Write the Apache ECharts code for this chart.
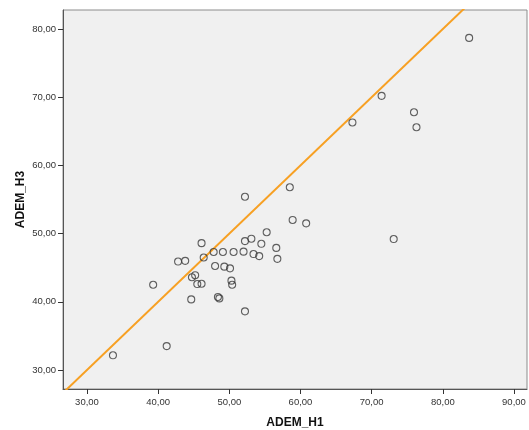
<!DOCTYPE html>
<html>
<head>
<meta charset="utf-8">
<script src="https://cdn.jsdelivr.net/npm/echarts@6/dist/echarts.min.js"></script>
<style>
html,body{margin:0;padding:0;background:#fff;}
#chart{width:529px;height:430px;}
</style>
</head>
<body>
<div id="chart"></div>
<script>
var xName = 'ADEM_H1';
var yName = 'ADEM_H3';
var xTicks = [30, 40, 50, 60, 70, 80, 90];
var yTicks = [30, 40, 50, 60, 70, 80];
var h1 = [52.2, 46.1, 42.8, 43.8, 46.4, 47.8, 49.1, 50.6, 52.0, 52.2, 48.0, 49.3, 50.1, 44.75, 45.2, 45.5, 46.1, 50.3, 50.4, 39.3, 44.65, 48.4, 48.6, 58.5, 58.9, 60.8, 55.25, 53.1, 54.5, 56.6, 53.4, 54.2, 56.75, 52.2, 41.2, 83.7, 71.4, 67.3, 75.95, 76.3, 73.1, 33.65];
var h3 = [55.4, 48.6, 45.9, 46.0, 46.5, 47.3, 47.3, 47.3, 47.35, 48.9, 45.25, 45.15, 44.9, 43.6, 43.9, 42.6, 42.65, 43.1, 42.5, 42.5, 40.35, 40.7, 40.5, 56.8, 52.0, 51.5, 50.2, 49.25, 48.5, 47.9, 47.0, 46.7, 46.3, 38.6, 33.5, 78.7, 70.2, 66.3, 67.8, 65.6, 49.2, 32.15];
var refLine = [[20, 20], [100, 100]];

var points = h1.map(function (v, i) { return [v, h3[i]]; });
function fmt(v) { return v.toFixed(2).replace('.', ','); }

var chart = echarts.init(document.getElementById('chart'));
chart.setOption({
  animation: false,
  grid: {
    left: 63, right: 2, top: 10, bottom: 41,
    outerBoundsMode: 'none', containLabel: false,
    show: true, backgroundColor: '#f0f0f0', borderColor: '#8c8c8c', borderWidth: 1
  },
  xAxis: {
    type: 'value', min: 26.63, max: 91.83,
    name: xName, nameLocation: 'middle', nameGap: 28, nameMoveOverlap: false,
    nameTextStyle: { fontFamily: 'Liberation Sans, Arial', fontWeight: 'bold', fontSize: 12, color: '#111' },
    axisLine: { show: true, lineStyle: { color: '#555', width: 1 } },
    axisTick: { show: true, length: 5, inside: false, customValues: xTicks, lineStyle: { color: '#333' } },
    axisLabel: { customValues: xTicks, formatter: fmt, margin: 8, fontFamily: 'Liberation Sans, Arial', fontSize: 9.5, color: '#333' },
    splitLine: { show: false }
  },
  yAxis: {
    type: 'value', min: 27.21, max: 82.79,
    name: yName, nameLocation: 'middle', nameGap: 36, nameRotate: 90, nameMoveOverlap: false,
    nameTextStyle: { fontFamily: 'Liberation Sans, Arial', fontWeight: 'bold', fontSize: 12, color: '#111' },
    axisLine: { show: true, lineStyle: { color: '#555', width: 1 } },
    axisTick: { show: true, length: 5, inside: false, customValues: yTicks, lineStyle: { color: '#333' } },
    axisLabel: { customValues: yTicks, formatter: fmt, margin: 7, fontFamily: 'Liberation Sans, Arial', fontSize: 9.5, color: '#333' },
    splitLine: { show: false }
  },
  series: [
    {
      type: 'line', data: refLine, showSymbol: false, clip: true,
      lineStyle: { color: '#f7a023', width: 2 }, z: 2
    },
    {
      type: 'scatter', data: points, symbol: 'circle', symbolSize: 7,
      itemStyle: { color: 'rgba(0,0,0,0)', borderColor: '#3a3a3a', borderWidth: 1.1 }, z: 3
    }
  ]
});
</script>
</body>
</html>
